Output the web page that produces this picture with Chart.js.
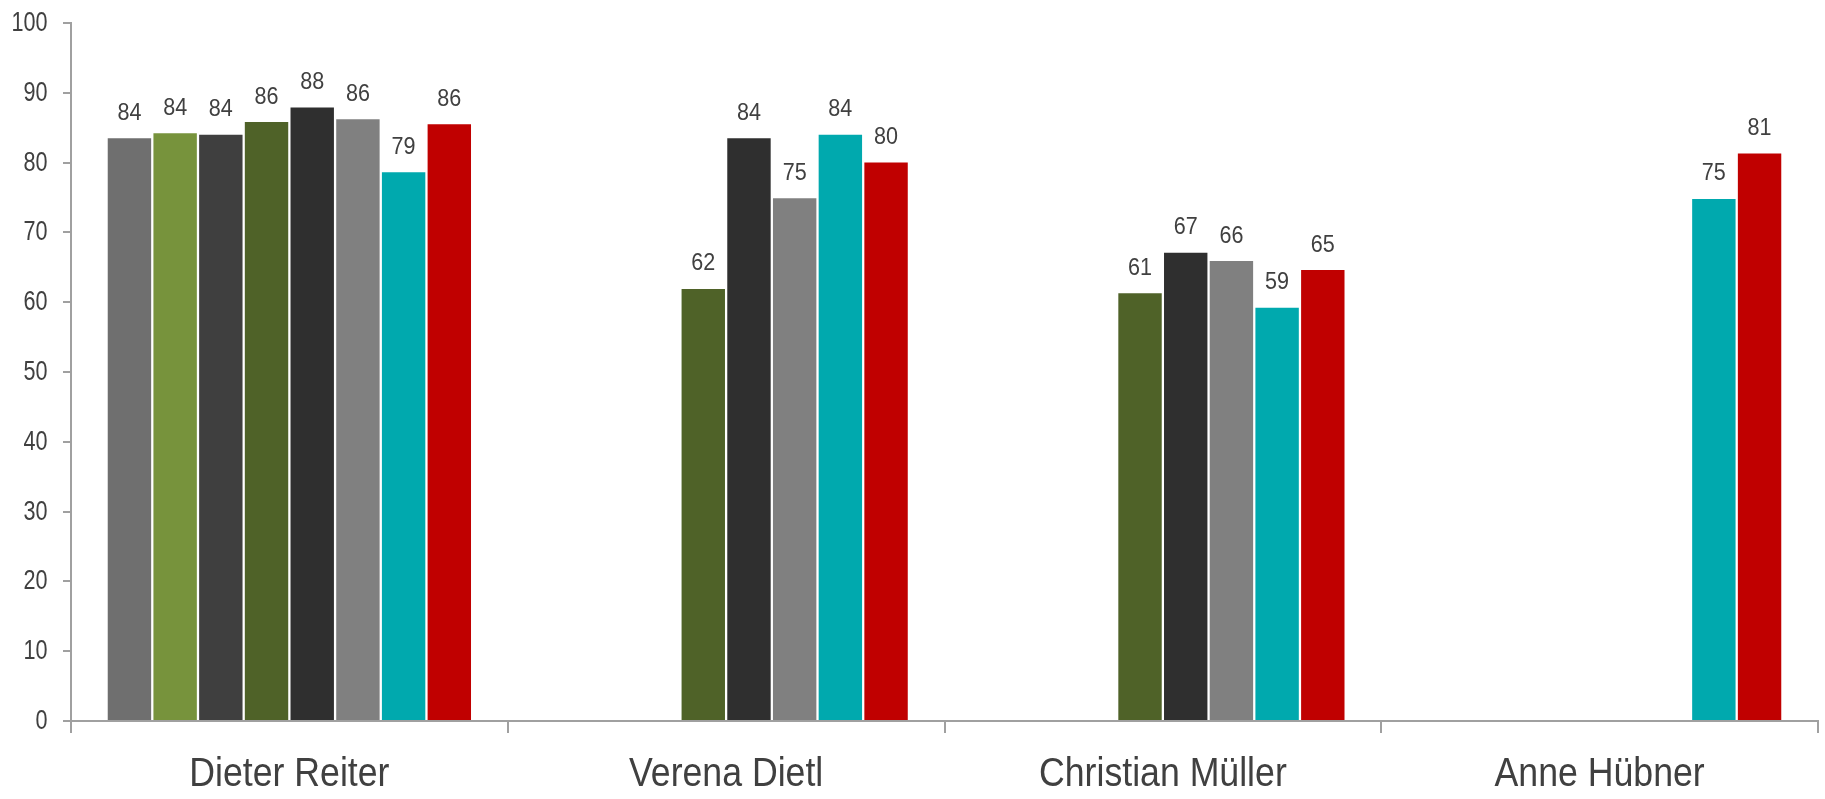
<!DOCTYPE html>
<html>
<head>
<meta charset="utf-8">
<script src="https://cdn.jsdelivr.net/npm/chart.js@4/dist/chart.umd.min.js"></script>
<style>
html,body{margin:0;padding:0;background:#fff;}
#wrap{width:1825px;height:799px;position:relative;}
</style>
</head>
<body>
<div id="wrap"><canvas id="c" width="1825" height="799"></canvas></div>
<script>
const categories = ["Dieter Reiter", "Verena Dietl", "Christian Müller", "Anne Hübner"];
const series1 = [83.5, null, null, null];
const series2 = [84.2, null, null, null];
const series3 = [84.0, null, null, null];
const series4 = [85.8, 61.9, 61.3, null];
const series5 = [87.9, 83.5, 67.1, null];
const series6 = [86.2, 74.9, 65.9, null];
const series7 = [78.6, 84.0, 59.2, 74.8];
const series8 = [85.5, 80.0, 64.6, 81.3];
const yTicks = [0, 10, 20, 30, 40, 50, 60, 70, 80, 90, 100];

const colors = ["#6f6f6f", "#77933c", "#3f3f3f", "#4f6228", "#2f2f2f", "#808080", "#00a9ae", "#c00000"];
const allSeries = [series1, series2, series3, series4, series5, series6, series7, series8];
const FONT = "'Liberation Sans', Arial, sans-serif";
const TEXT = "#404040";

function narrowText(ctx, txt, x, y, size, sx, align, baseline) {
  ctx.save();
  ctx.font = size + "px " + FONT;
  ctx.fillStyle = TEXT;
  ctx.textAlign = align;
  ctx.textBaseline = baseline;
  ctx.translate(x, y);
  ctx.scale(sx, 1);
  ctx.fillText(txt, 0, 0);
  ctx.restore();
}

const textPlugin = {
  id: 'narrowLabels',
  afterDraw(chart) {
    const ctx = chart.ctx;
    const ys = chart.scales.y, xs = chart.scales.x;
    yTicks.forEach(v => {
      narrowText(ctx, String(v), ys.right - 23.5, ys.getPixelForValue(v) + 0.5, 27, 0.8, 'right', 'middle');
    });
    categories.forEach((c, i) => {
      narrowText(ctx, c, xs.getPixelForValue(i), xs.top + 65, 41, 0.87, 'center', 'alphabetic');
    });
    chart.data.datasets.forEach((ds, i) => {
      const meta = chart.getDatasetMeta(i);
      meta.data.forEach((el, j) => {
        const v = ds.data[j];
        if (v === null || v === undefined) return;
        narrowText(ctx, String(Math.round(v)), el.x, el.y - 18.5, 24.5, 0.88, 'center', 'alphabetic');
      });
    });
  }
};

new Chart(document.getElementById('c'), {
  type: 'bar',
  data: {
    labels: categories,
    datasets: allSeries.map((s, i) => ({
      data: s,
      backgroundColor: colors[i],
      borderWidth: 0,
      categoryPercentage: 0.837,
      barPercentage: 0.95
    }))
  },
  options: {
    responsive: false,
    animation: false,
    events: [],
    layout: { padding: { top: 23, right: 7, left: 0, bottom: 0 } },
    plugins: { legend: { display: false }, tooltip: { enabled: false } },
    scales: {
      x: {
        grid: { display: true, drawOnChartArea: false, drawTicks: true, tickLength: 12, color: "#a0a0a0", lineWidth: 2, offset: true },
        border: { display: true, color: "#a0a0a0", width: 2 },
        ticks: { display: false },
        afterFit: s => { s.height = 78; }
      },
      y: {
        min: 0, max: 100,
        afterBuildTicks: s => { s.ticks = yTicks.map(v => ({ value: v })); },
        grid: { display: true, drawOnChartArea: false, drawTicks: true, tickLength: 8, color: "#a0a0a0", lineWidth: 2 },
        border: { display: true, color: "#a0a0a0", width: 2 },
        ticks: { display: false },
        afterFit: s => { s.width = 71; }
      }
    }
  },
  plugins: [textPlugin]
});
</script>
</body>
</html>
